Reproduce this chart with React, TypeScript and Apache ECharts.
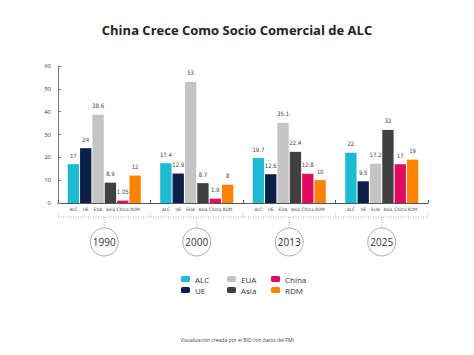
import React, { useEffect, useRef } from "react";
import * as echarts from "echarts";

const categories = ["1990", "2000", "2013", "2025"];
const seriesNames = ["ALC", "UE", "EUA", "Asia", "China", "RDM"];
const ALC = [17, 17.4, 19.7, 22];
const UE = [24, 12.9, 12.6, 9.5];
const EUA = [38.6, 53, 35.1, 17.2];
const Asia = [8.9, 8.7, 22.4, 32];
const China = [1.05, 1.9, 12.8, 17];
const RDM = [12, 8, 10, 19];
const seriesValues = [ALC, UE, EUA, Asia, China, RDM];
const colors = ["#1dbad3", "#0b2149", "#c4c4c4", "#404040", "#e30b61", "#ff8200"];
const yTicks = [0, 10, 20, 30, 40, 50, 60];

const narrow = "'Liberation Sans Narrow', 'Arial Narrow', 'DejaVu Sans Condensed', sans-serif";
const sans = "'Open Sans', 'Noto Sans', sans-serif";

export default function App() {
  const ref = useRef<HTMLDivElement>(null);
  useEffect(() => {
    if (!ref.current) return;
    const chart = echarts.init(ref.current, null, { renderer: "svg" });
    const series: any[] = [];
    seriesNames.forEach((n, i) => {
      series.push({
        name: n + "_lbl",
        type: "bar",
        stack: n,
        data: categories.map(() => 0),
        itemStyle: { color: "transparent" },
        silent: true,
        barCategoryGap: "21%",
        barGap: "9%",
        label: {
          show: true,
          position: "bottom",
          distance: 4,
          formatter: n,
          fontSize: 4.6,
          color: "#3a3a3a",
          fontFamily: narrow,
        },
      });
      series.push({
        name: n,
        type: "bar",
        stack: n,
        data: seriesValues[i],
        itemStyle: { color: colors[i] },
        barCategoryGap: "21%",
        barGap: "9%",
        label: {
          show: true,
          position: "top",
          distance: 6,
          fontSize: 6,
          color: "#444",
          fontFamily: narrow,
        },
      });
    });
    const legendCommon = {
      orient: "vertical",
      top: 270,
      itemWidth: 9,
      itemHeight: 6,
      itemGap: 3,
      textStyle: { fontSize: 8, color: "#333333", fontFamily: sans },
      selectedMode: false,
    };
    chart.setOption({
      animation: false,
      backgroundColor: "#ffffff",
      title: {
        text: "China Crece Como Socio Comercial de ALC",
        left: "center",
        top: 18,
        textStyle: { fontSize: 13, fontWeight: "bold", color: "#222", fontFamily: sans },
      },
      grid: { left: 58, right: 46, top: 66, bottom: 152 },
      xAxis: {
        type: "category",
        data: categories,
        axisLine: { lineStyle: { color: "#555", width: 1 } },
        axisTick: { show: true, inside: true, length: 3, lineStyle: { color: "#555" } },
        axisLabel: { show: false },
      },
      yAxis: {
        type: "value",
        min: 0,
        max: 60,
        interval: 10,
        axisLine: { show: true, lineStyle: { color: "#777", width: 1 } },
        axisTick: { show: true, inside: true, length: 3, lineStyle: { color: "#777" } },
        splitLine: { show: false },
        axisLabel: {
          fontSize: 6,
          color: "#3a3a3a",
          margin: 7,
          fontFamily: sans,
          formatter: (v: number) => (yTicks.includes(v) ? String(v) : ""),
        },
      },
      legend: [
        { ...legendCommon, left: 176, data: ["ALC", "UE"] },
        { ...legendCommon, left: 222, data: ["EUA", "Asia"] },
        { ...legendCommon, left: 266, data: ["China", "RDM"] },
      ],
      series,
    });

    const xs = categories.map((_, i) => chart.convertToPixel({ xAxisIndex: 0 }, i) as number);
    const band = xs[1] - xs[0];
    const y0 = chart.convertToPixel({ yAxisIndex: 0 }, 0) as number;
    const lineY = y0 + 14;
    const cy = y0 + 39;
    const r = 14;
    const dotted = { stroke: "#999", lineWidth: 0.8, lineDash: [1, 1.5] };
    const elements: any[] = [];
    const left = xs[0] - band / 2;
    const right = xs[xs.length - 1] + band / 2;
    elements.push({ type: "line", shape: { x1: left, y1: lineY, x2: right, y2: lineY }, style: dotted });
    for (let i = 0; i <= categories.length; i++) {
      const bx = left + i * band;
      elements.push({ type: "line", shape: { x1: bx, y1: lineY - 4, x2: bx, y2: lineY + 1 }, style: dotted });
    }
    categories.forEach((c, i) => {
      elements.push({ type: "line", shape: { x1: xs[i], y1: lineY, x2: xs[i], y2: cy - r }, style: dotted });
      elements.push({ type: "circle", shape: { cx: xs[i], cy, r }, style: { fill: "#fff", stroke: "#999", lineWidth: 0.8 } });
      elements.push({
        type: "text",
        x: xs[i],
        y: cy,
        style: { text: c, fontSize: 10, fontFamily: sans, fill: "#333", align: "center", verticalAlign: "middle" },
      });
    });
    elements.push({
      type: "text",
      x: 237,
      y: 340,
      style: {
        text: "Visualización creada por el BID con datos del FMI",
        fontSize: 5,
        fontFamily: sans,
        fill: "#444",
        align: "center",
        verticalAlign: "middle",
      },
    });
    chart.setOption({ graphic: { elements } });
    return () => chart.dispose();
  }, []);
  return <div ref={ref} style={{ position: "absolute", left: 0, top: 0, width: 474, height: 355 }} />;
}
